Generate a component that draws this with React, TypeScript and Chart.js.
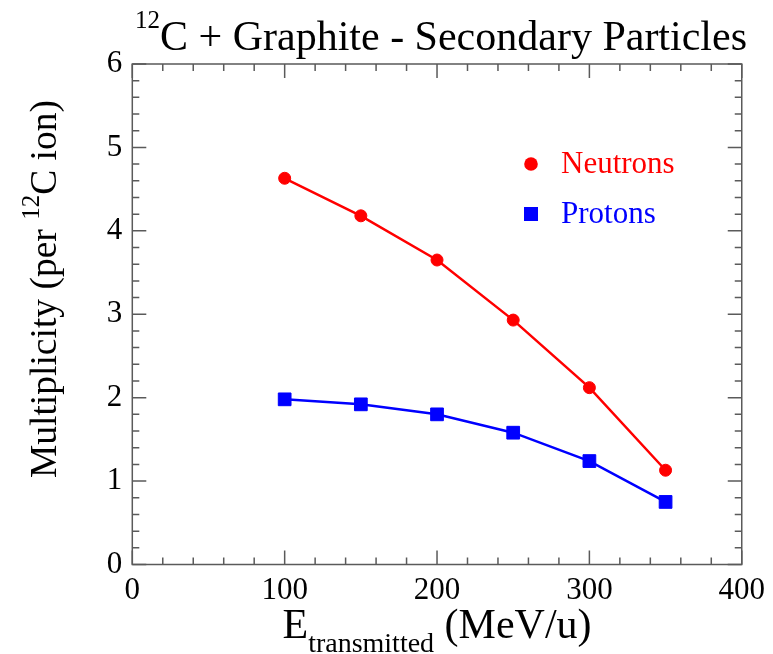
import React, { useEffect, useRef } from 'react';
import { Chart, registerables } from 'chart.js';

Chart.register(...registerables);

const energies = [100, 150, 200, 250, 300, 350];
const neutrons = [4.63, 4.18, 3.65, 2.93, 2.12, 1.13];
const protons = [1.98, 1.92, 1.8, 1.58, 1.24, 0.75];
const xTicks = [0, 100, 200, 300, 400];
const yTicks = [0, 1, 2, 3, 4, 5, 6];
const seriesLabels = ['Neutrons', 'Protons'];
const seriesColors = ['#ff0000', '#0000ff'];

const FONT = '"Liberation Serif", "Times New Roman", serif';

type Seg = { t: string; size: number; dy: number };

function segWidth(ctx: CanvasRenderingContext2D, segs: Seg[]) {
  let w = 0;
  for (const s of segs) {
    ctx.font = `${s.size}px ${FONT}`;
    w += ctx.measureText(s.t).width;
  }
  return w;
}

function drawSegs(ctx: CanvasRenderingContext2D, segs: Seg[], x: number, y: number, color: string) {
  let cx = x;
  ctx.fillStyle = color;
  ctx.textBaseline = 'alphabetic';
  ctx.textAlign = 'left';
  for (const s of segs) {
    ctx.font = `${s.size}px ${FONT}`;
    ctx.fillText(s.t, cx, y + s.dy);
    cx += ctx.measureText(s.t).width;
  }
}

const framePlugin = {
  id: 'rootFrame',
  afterDraw(chart: any) {
    const ctx: CanvasRenderingContext2D = chart.ctx;
    const { left, right, top, bottom } = chart.chartArea;
    const xs = chart.scales.x;
    const ys = chart.scales.y;
    ctx.save();
    ctx.strokeStyle = '#5a5a5a';
    ctx.lineWidth = 1.5;
    ctx.strokeRect(left, top, right - left, bottom - top);
    const major = 14;
    const minor = 7;
    ctx.beginPath();
    for (let v = xs.min; v <= xs.max + 1e-9; v += 20) {
      const px = xs.getPixelForValue(v);
      const len = Math.abs(v % 100) < 1e-6 ? major : minor;
      ctx.moveTo(px, bottom);
      ctx.lineTo(px, bottom - len);
      ctx.moveTo(px, top);
      ctx.lineTo(px, top + len);
    }
    for (let i = 0; i <= 30; i++) {
      const v = i * 0.2;
      const py = ys.getPixelForValue(v);
      const len = i % 5 === 0 ? major : minor;
      ctx.moveTo(left, py);
      ctx.lineTo(left + len, py);
      ctx.moveTo(right, py);
      ctx.lineTo(right - len, py);
    }
    ctx.stroke();

    // Title
    const title: Seg[] = [
      { t: '12', size: 25, dy: -22 },
      { t: 'C + Graphite - Secondary Particles', size: 42, dy: 0 },
    ];
    const tw = segWidth(ctx, title);
    drawSegs(ctx, title, 441 - tw / 2, 50, '#000');

    // X axis title
    const xt: Seg[] = [
      { t: 'E', size: 42, dy: 0 },
      { t: 'transmitted', size: 28, dy: 14 },
      { t: ' (MeV/u)', size: 42, dy: 0 },
    ];
    const xw = segWidth(ctx, xt);
    drawSegs(ctx, xt, (left + right) / 2 - xw / 2, 638, '#000');

    // Y axis title
    const yt: Seg[] = [
      { t: 'Multiplicity (per ', size: 37.5, dy: 0 },
      { t: '12', size: 25, dy: -17 },
      { t: 'C ion)', size: 37.5, dy: 0 },
    ];
    const yw = segWidth(ctx, yt);
    ctx.save();
    ctx.translate(56, 100);
    ctx.rotate(-Math.PI / 2);
    drawSegs(ctx, yt, -yw, 0, '#000');
    ctx.restore();

    // Legend
    const lx = 531;
    const rows = [164, 214];
    chart.data.datasets.forEach((ds: any, i: number) => {
      const cy = rows[i];
      ctx.fillStyle = ds.borderColor;
      if (ds.pointStyle === 'rect') {
        ctx.fillRect(lx - 7, cy - 7, 14, 14);
      } else {
        ctx.beginPath();
        ctx.arc(lx, cy, 6.8, 0, Math.PI * 2);
        ctx.fill();
      }
      ctx.font = `31px ${FONT}`;
      ctx.textBaseline = 'alphabetic';
      ctx.textAlign = 'left';
      ctx.fillText(ds.label, 561, cy + 9);
    });
    ctx.restore();
  },
};

export default function App() {
  const ref = useRef<HTMLCanvasElement>(null);
  useEffect(() => {
    document.body.style.margin = '0';
    document.body.style.background = '#fff';
    const canvas = ref.current;
    if (!canvas) return;
    const chart = new Chart(canvas, {
      type: 'line',
      data: {
        datasets: [
          {
            label: seriesLabels[0],
            data: energies.map((e, i) => ({ x: e, y: neutrons[i] })),
            borderColor: seriesColors[0],
            backgroundColor: seriesColors[0],
            borderWidth: 2.5,
            pointStyle: 'circle',
            pointRadius: 6,
            pointBorderWidth: 1,
            tension: 0,
          },
          {
            label: seriesLabels[1],
            data: energies.map((e, i) => ({ x: e, y: protons[i] })),
            borderColor: seriesColors[1],
            backgroundColor: seriesColors[1],
            borderWidth: 2.5,
            pointStyle: 'rect',
            pointRadius: 9,
            pointBorderWidth: 1,
            tension: 0,
          },
        ],
      },
      options: {
        animation: false,
        responsive: false,
        maintainAspectRatio: false,
        layout: { padding: { top: 64, right: 29, left: 0, bottom: 0 } },
        plugins: {
          legend: { display: false },
          tooltip: { enabled: false },
          title: { display: false },
        },
        scales: {
          x: {
            type: 'linear',
            min: 0,
            max: 400,
            afterBuildTicks: (s: any) => {
              s.ticks = xTicks.map((v) => ({ value: v }));
            },
            afterFit: (s: any) => {
              s.height = 89.5;
            },
            ticks: {
              font: { family: FONT, size: 31 },
              color: '#000',
              padding: 8,
              maxRotation: 0,
              autoSkip: false,
            },
            grid: { display: false, drawTicks: false },
            border: { display: false },
          },
          y: {
            type: 'linear',
            min: 0,
            max: 6,
            afterBuildTicks: (s: any) => {
              s.ticks = yTicks.map((v) => ({ value: v }));
            },
            afterFit: (s: any) => {
              s.width = 132.3;
            },
            ticks: {
              font: { family: FONT, size: 31 },
              color: '#000',
              padding: 10,
              autoSkip: false,
            },
            grid: { display: false, drawTicks: false },
            border: { display: false },
          },
        },
      },
      plugins: [framePlugin],
    });
    return () => chart.destroy();
  }, []);
  return (
    <canvas
      ref={ref}
      width={773}
      height={654}
      style={{ display: 'block', width: 773, height: 654 }}
    />
  );
}
